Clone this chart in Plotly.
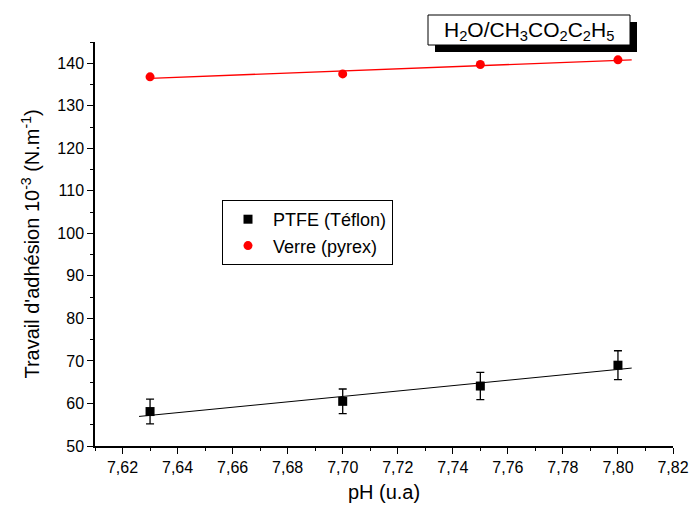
import numpy as np
import plotly.graph_objects as go

ph = [7.63, 7.70, 7.75, 7.80]
ptfe = [58.1, 60.5, 64.1, 69.0]
ptfe_err = [2.9, 2.9, 3.2, 3.4]
verre = [136.8, 137.5, 139.7, 140.8]

x_ticks = [7.62, 7.64, 7.66, 7.68, 7.70, 7.72, 7.74, 7.76, 7.78, 7.80, 7.82]
x_ticklabels = ["7,62", "7,64", "7,66", "7,68", "7,70", "7,72", "7,74", "7,76", "7,78", "7,80", "7,82"]
y_ticks = [50, 60, 70, 80, 90, 100, 110, 120, 130, 140]

fit_x_ptfe = [7.626, 7.805]
fit_x_verre = [7.63, 7.805]

FONT = "Arial, Liberation Sans, sans-serif"

p1 = np.polyfit(ph, ptfe, 1)
p2 = np.polyfit(ph, verre, 1)

fig = go.Figure()
fig.add_trace(go.Scatter(x=fit_x_ptfe, y=np.polyval(p1, fit_x_ptfe), mode="lines",
                         line=dict(color="black", width=1), showlegend=False, hoverinfo="skip"))
fig.add_trace(go.Scatter(x=fit_x_verre, y=np.polyval(p2, fit_x_verre), mode="lines",
                         line=dict(color="red", width=1.3), showlegend=False, hoverinfo="skip"))
fig.add_trace(go.Scatter(x=ph, y=ptfe, mode="markers", name="PTFE (Téflon)",
                         marker=dict(symbol="square", size=9, color="black"),
                         error_y=dict(type="data", array=ptfe_err, color="black", thickness=1.3, width=4)))
fig.add_trace(go.Scatter(x=ph, y=verre, mode="markers", name="Verre (pyrex)",
                         marker=dict(symbol="circle", size=9, color="red")))

W, H = 690, 506
L, R, T, B = 95, 673, 42, 446  # plot area in pixels
def px(x): return (x - L) / (R - L)
def py(y): return (B - y) / (B - T)

fig.add_shape(type="rect", xref="paper", yref="paper", x0=px(435), x1=px(637), y0=py(52), y1=py(22),
              fillcolor="black", line=dict(width=0), layer="above")
fig.add_shape(type="rect", xref="paper", yref="paper", x0=px(428), x1=px(630), y0=py(45), y1=py(15),
              fillcolor="white", line=dict(color="black", width=1), layer="above")
fig.add_annotation(xref="paper", yref="paper", x=px(529), y=py(31), xanchor="center", yanchor="middle",
                   text="H<sub>2</sub>O/CH<sub>3</sub>CO<sub>2</sub>C<sub>2</sub>H<sub>5</sub>",
                   showarrow=False, font=dict(family=FONT, size=21, color="black"))

fig.update_layout(
    width=W, height=H,
    margin=dict(l=L, r=W - R, t=T, b=H - B),
    paper_bgcolor="white", plot_bgcolor="white",
    font=dict(family=FONT, color="black"),
    legend=dict(x=px(222), y=py(200), xanchor="left", yanchor="top",
                bordercolor="black", borderwidth=1, bgcolor="white",
                font=dict(family=FONT, size=18, color="black"),
                itemwidth=40, tracegroupgap=0),
    showlegend=True,
)
fig.update_xaxes(range=[7.61, 7.82], tickvals=x_ticks, ticktext=x_ticklabels, automargin=False,
                 ticklabeloverflow="allow",
                 showgrid=False, zeroline=False, showline=True, linecolor="black", linewidth=1.5,
                 ticks="outside", ticklen=6, tickwidth=1.3, tickcolor="black",
                 tickfont=dict(family=FONT, size=16, color="black"),
                 minor=dict(dtick=0.01, tick0=7.61, ticks="outside", ticklen=3, tickwidth=1.3, tickcolor="black"),
                 title=dict(text="pH (u.a)", font=dict(family=FONT, size=20, color="black"), standoff=10))
fig.update_yaxes(range=[50, 145], tickvals=y_ticks, automargin=False,
                 showgrid=False, zeroline=False, showline=True, linecolor="black", linewidth=1.5,
                 ticks="outside", ticklen=6, tickwidth=1.3, tickcolor="black",
                 tickfont=dict(family=FONT, size=16, color="black"),
                 minor=dict(dtick=5, tick0=50, ticks="outside", ticklen=3, tickwidth=1.3, tickcolor="black"),
                 title=dict(text="Travail d'adhésion 10<sup>-3</sup> (N.m<sup>-1</sup>)",
                            font=dict(family=FONT, size=20, color="black"), standoff=12))

fig.write_html("out.html", config={"displayModeBar": False},
               post_script="document.body.style.margin='0px';")
